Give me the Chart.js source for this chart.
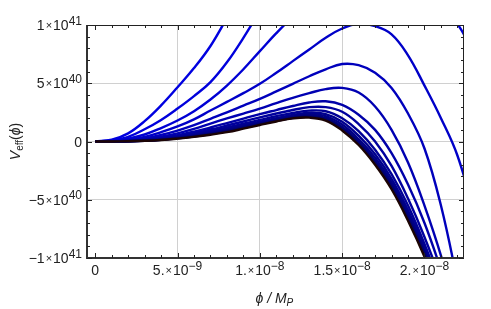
<!DOCTYPE html>
<html>
<head>
<meta charset="utf-8">
<script src="https://cdn.jsdelivr.net/npm/chart.js@4"></script>
<style>
  html, body { margin: 0; padding: 0; background: #fff; }
  canvas { display: block; }
</style>
</head>
<body>
<canvas id="potentialChart" width="491" height="309"></canvas>
<script>
// phi in units of 1e-9 M_P, V_eff in units of 1e40
var phi = [0, 1, 2, 3, 4, 5, 6, 7, 8, 9, 10, 11, 12, 13, 14, 15, 16, 17, 18, 19, 20, 21, 22, 23];

var v01 = [0, 0.15, 0.7, 1.75, 3.1, 4.66, 6.3, 8.2, 10.6, 13, 15.5, 17.8, 20, 22, 23.8, 25.3, 26.5, 27.3, 27.6, 27.4, 26.5, 25, 23, 20];
var v02 = [0, 0.1, 0.4, 1.05, 1.85, 2.83, 3.9, 5.1, 6.8, 8.9, 11.2, 13.4, 15.2, 16.6, 17.7, 18.5, 19, 19.2, 19, 18.5, 17.6, 16.3, 14.5, 12];
var v03 = [0, 0.06, 0.25, 0.6, 1.15, 1.8, 2.6, 3.6, 4.8, 6.2, 7.76, 9.3, 10.7, 11.9, 12.8, 13.4, 13.8, 14, 13.9, 13.5, 12.8, 11.7, 10.1, 7.6];
var v04 = [0, 0.02, 0.15, 0.4, 0.8, 1.29, 1.9, 2.66, 3.4, 4.15, 4.95, 5.9, 6.9, 7.9, 8.9, 9.7, 10.1, 9.9, 9.2, 7.4, 4.8, 2.0, -1.2, -6];
var v05 = [0, 0.01, 0.1, 0.28, 0.57, 0.94, 1.4, 1.95, 2.5, 3.08, 3.66, 4.3, 4.95, 5.6, 6.2, 6.65, 6.55, 5.9, 4.6, 2.4, -0.6, -5.5, -12, -19];
var v06 = [0, 0.01, 0.07, 0.2, 0.42, 0.7, 1.08, 1.54, 1.98, 2.4, 2.83, 3.3, 3.75, 4.15, 4.5, 4.6, 4.2, 3.0, 1.0, -1.8, -5.5, -9.8, -15, -20.5];
var v07 = [0, 0.01, 0.05, 0.15, 0.33, 0.55, 0.85, 1.2, 1.58, 1.97, 2.35, 2.7, 3.05, 3.35, 3.45, 3.15, 2.3, 1.0, -1.0, -3.7, -7.0, -11, -15.5, -21];
var v08 = [0, 0.01, 0.04, 0.12, 0.27, 0.46, 0.72, 1.03, 1.37, 1.72, 2.07, 2.4, 2.7, 2.95, 2.95, 2.55, 1.5, 0.0, -2.1, -4.9, -8.2, -12, -16.7, -22];
var v09 = [0, 0, 0.03, 0.1, 0.22, 0.4, 0.62, 0.9, 1.21, 1.53, 1.85, 2.17, 2.45, 2.65, 2.6, 2.0, 0.9, -0.7, -2.8, -5.5, -8.8, -12.6, -17.2, -22.5];
var v10 = [0, 0, 0.03, 0.09, 0.19, 0.35, 0.55, 0.8, 1.1, 1.4, 1.7, 2.0, 2.28, 2.47, 2.35, 1.7, 0.5, -1.1, -3.2, -5.9, -9.1, -12.9, -17.5, -23];
var v11 = [0, 0, 0.02, 0.08, 0.17, 0.31, 0.5, 0.73, 1.0, 1.3, 1.6, 1.9, 2.16, 2.33, 2.18, 1.45, 0.2, -1.4, -3.5, -6.2, -9.4, -13.1, -17.7, -23];
var v12 = [0, 0, 0.02, 0.07, 0.15, 0.29, 0.46, 0.68, 0.94, 1.24, 1.54, 1.83, 2.08, 2.22, 2.02, 1.25, 0, -1.65, -3.75, -6.45, -9.55, -13.2, -17.8, -23];
var v13 = [0, 0, 0.02, 0.065, 0.14, 0.27, 0.43, 0.64, 0.88, 1.17, 1.48, 1.77, 2.02, 2.12, 1.9, 1.1, -0.15, -1.8, -3.9, -6.6, -9.65, -13.3, -17.9, -23];
var v14 = [0, 0, 0.02, 0.06, 0.13, 0.25, 0.4, 0.58, 0.8, 1.1, 1.42, 1.72, 1.98, 2.05, 1.8, 0.95, -0.3, -2.0, -4.1, -6.8, -9.9, -13.5, -18, -23];

// tick labels: mantissa and power of ten
var xTickValues = [0, 5, 10, 15, 20];
var xTickMant = ['0', '5.', '1.', '1.5', '2.'];
var xTickExp = ['', '\u22129', '\u22128', '\u22128', '\u22128'];
var yTickValues = [10, 5, 0, -5, -10];
var yTickMant = ['1', '5', '0', '\u22125', '\u22121'];
var yTickExp = ['41', '40', '', '40', '41'];

var curves = [v01, v02, v03, v04, v05, v06, v07, v08, v09, v10, v11, v12, v13, v14];
var lineColors = [
    '#0000e0', '#0000dc', '#0000d4', '#0000c8', '#0000bc', '#0000b2', '#0000a8',
    '#00009e', '#000096', '#00008e', '#000086', '#00007c', '#00006a', '#1c0404'
];

var FONT = '"Liberation Sans", Arial, sans-serif';

// draws "m x 10^e" with a raised exponent
function drawSci(ctx, mant, exp, x, y, align) {
    var mainFont = '14px ' + FONT;
    var timesFont = '11px ' + FONT;
    var supFont = '12px ' + FONT;
    var parts = [];
    if (exp === '') {
        parts.push({ t: mant, f: mainFont, dy: 0, gap: 0 });
    } else {
        parts.push({ t: mant, f: mainFont, dy: 0, gap: 1 });
        parts.push({ t: '\u00d7', f: timesFont, dy: -1, gap: 1 });
        parts.push({ t: '10', f: mainFont, dy: 0, gap: 0 });
        parts.push({ t: exp, f: supFont, dy: -5.5, gap: 0 });
    }
    var total = 0;
    parts.forEach(function (p) {
        ctx.font = p.f;
        p.w = ctx.measureText(p.t).width;
        total += p.w + p.gap;
    });
    var cx = align === 'right' ? x - total : x - total / 2;
    ctx.textAlign = 'left';
    ctx.textBaseline = 'alphabetic';
    parts.forEach(function (p) {
        ctx.font = p.f;
        ctx.fillText(p.t, cx, y + p.dy);
        cx += p.w + p.gap;
    });
}

var framePlugin = {
    id: 'frame',
    afterDraw: function (chart) {
        var ctx = chart.ctx;
        var area = chart.chartArea;
        var xs = chart.scales.x;
        var ys = chart.scales.y;
        ctx.save();

        // frame
        ctx.strokeStyle = '#222';
        ctx.lineWidth = 1;
        ctx.strokeRect(area.left + 0.5, area.top + 0.5, area.right - area.left - 1, area.bottom - area.top - 1);
        ctx.lineWidth = 2;
        ctx.strokeStyle = '#333';
        ctx.beginPath();
        ctx.moveTo(area.left, area.top);
        ctx.lineTo(area.left, area.bottom);
        ctx.lineTo(area.right, area.bottom);
        ctx.stroke();

        // tick marks on all four sides
        ctx.lineWidth = 1;
        ctx.strokeStyle = '#222';
        ctx.beginPath();
        for (var i = 0; i <= 22; i++) {
            var px = Math.round(xs.getPixelForValue(i)) + 0.5;
            var len = i % 5 === 0 ? 5 : 3;
            ctx.moveTo(px, area.bottom);
            ctx.lineTo(px, area.bottom - len);
            ctx.moveTo(px, area.top);
            ctx.lineTo(px, area.top + len);
        }
        for (var j = -10; j <= 10; j++) {
            var py = Math.round(ys.getPixelForValue(j)) + 0.5;
            var ylen = j % 5 === 0 ? 5 : 3;
            ctx.moveTo(area.left, py);
            ctx.lineTo(area.left + ylen, py);
            ctx.moveTo(area.right, py);
            ctx.lineTo(area.right - ylen, py);
        }
        ctx.stroke();

        // tick labels
        ctx.fillStyle = '#222';
        xTickValues.forEach(function (v, k) {
            drawSci(ctx, xTickMant[k], xTickExp[k], xs.getPixelForValue(v), 275, 'center');
        });
        yTickValues.forEach(function (v, k) {
            drawSci(ctx, yTickMant[k], yTickExp[k], 82, ys.getPixelForValue(v) + 5, 'right');
        });

        // x axis title: phi / M_P
        var cx = (area.left + area.right) / 2 - 20;
        ctx.font = 'italic 14px ' + FONT;
        ctx.fillText('\u03d5 / M', cx, 303);
        var w = ctx.measureText('\u03d5 / M').width;
        ctx.font = 'italic 10px ' + FONT;
        ctx.fillText('P', cx + w, 306);

        // y axis title: V_eff(phi)
        ctx.translate(20, (area.top + area.bottom) / 2);
        ctx.rotate(-Math.PI / 2);
        var pieces = [
            { t: 'V', f: 'italic 14px ' + FONT, dy: 0 },
            { t: 'eff', f: '10px ' + FONT, dy: 3 },
            { t: '(', f: '14px ' + FONT, dy: 0 },
            { t: '\u03d5', f: 'italic 14px ' + FONT, dy: 0 },
            { t: ')', f: '14px ' + FONT, dy: 0 }
        ];
        var tw = 0;
        pieces.forEach(function (p) { ctx.font = p.f; p.w = ctx.measureText(p.t).width; tw += p.w; });
        var sx = -tw / 2;
        pieces.forEach(function (p) {
            ctx.font = p.f;
            ctx.fillText(p.t, sx, p.dy);
            sx += p.w;
        });
        ctx.restore();
    }
};

var ctx = document.getElementById('potentialChart').getContext('2d');
new Chart(ctx, {
    type: 'line',
    data: {
        datasets: curves.map(function (vals, i) {
            return {
                data: vals.map(function (v, j) { return { x: phi[j], y: v }; }),
                borderColor: lineColors[i],
                borderWidth: 2.4,
                pointRadius: 0,
                fill: false,
                tension: 0.4,
                clip: 0,
                order: curves.length - i
            };
        })
    },
    options: {
        responsive: false,
        animation: false,
        devicePixelRatio: 1,
        layout: {
            padding: { left: 87, right: 27, top: 25, bottom: 51 }
        },
        plugins: {
            legend: { display: false },
            tooltip: { enabled: false }
        },
        scales: {
            x: {
                type: 'linear',
                min: -0.5,
                max: 22.4,
                ticks: { display: false, stepSize: 5 },
                grid: {
                    drawTicks: false,
                    color: function (c) {
                        var v = c.tick.value;
                        return (v !== 0 && v % 5 === 0) ? '#d0d0d0' : 'rgba(0,0,0,0)';
                    }
                },
                border: { display: false }
            },
            y: {
                type: 'linear',
                min: -10,
                max: 10,
                ticks: { display: false, stepSize: 5 },
                grid: {
                    drawTicks: false,
                    color: '#d0d0d0'
                },
                border: { display: false }
            }
        }
    },
    plugins: [framePlugin]
});
</script>
</body>
</html>
